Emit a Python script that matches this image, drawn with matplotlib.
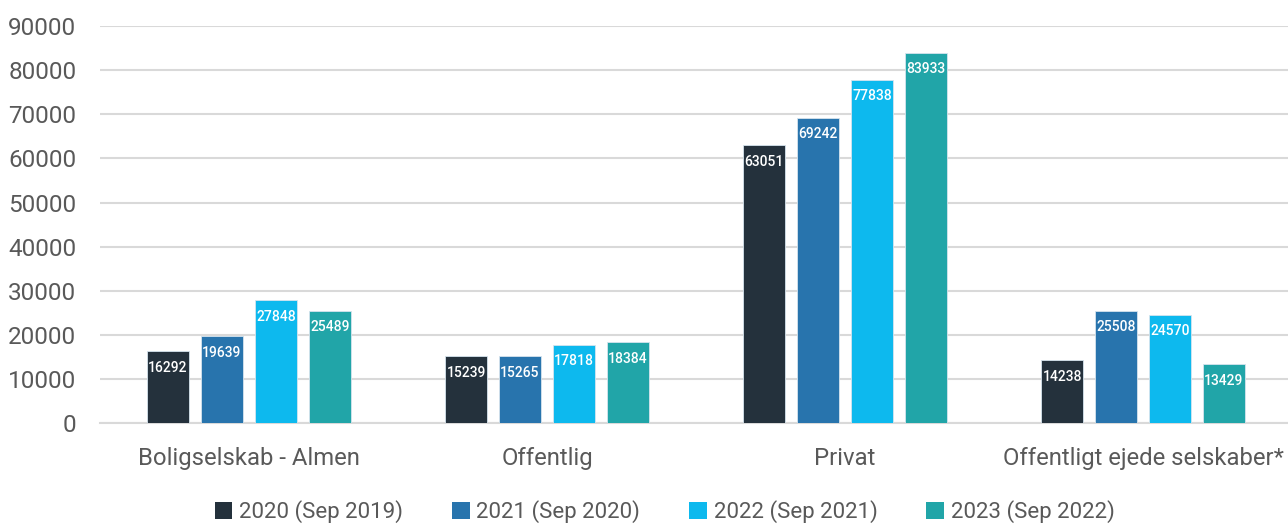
import numpy as np
import matplotlib
matplotlib.use("Agg")
import matplotlib.pyplot as plt
from matplotlib.patches import Patch

plt.rcParams["font.family"] = ["Roboto", "DejaVu Sans"]

categories = ["Boligselskab - Almen", "Offentlig", "Privat", "Offentligt ejede selskaber*"]
series = ["2020 (Sep 2019)", "2021 (Sep 2020)", "2022 (Sep 2021)", "2023 (Sep 2022)"]
v2020 = [16292, 15239, 63051, 14238]
v2021 = [19639, 15265, 69242, 25508]
v2022 = [27848, 17818, 77838, 24570]
v2023 = [25489, 18384, 83933, 13429]
colors = ["#24313C", "#2874AD", "#0DB9EE", "#21A5A8"]

fig = plt.figure(figsize=(12.88, 5.25), dpi=100)
ax = fig.add_axes([0.0776, 0.194, 0.9255, 0.7565])

x = np.arange(len(categories))
width = 0.141
step = 0.181
for i, (vals, col) in enumerate(zip([v2020, v2021, v2022, v2023], colors)):
    pos = x + (i - 1.5) * step
    ax.bar(pos, vals, width=width, color=col, edgecolor="#D6E4EE", linewidth=0.6, zorder=3)
    for px, v in zip(pos, vals):
        ax.annotate(str(v), (px, v), xytext=(0, -7), textcoords="offset points",
                    ha="center", va="top", color="white", fontsize=10,
                    fontweight="medium", zorder=4)

ax.set_xlim(-0.5, 3.5)
ax.set_ylim(0, 90000)
ax.set_yticks(np.arange(0, 90001, 10000))
ax.yaxis.grid(True, color="#D9D9D9", linewidth=1.5, zorder=0)
ax.set_axisbelow(True)
for s in ["top", "right", "left"]:
    ax.spines[s].set_visible(False)
ax.spines["bottom"].set_color("#D9D9D9")
ax.spines["bottom"].set_linewidth(1.5)
ax.set_xticks(x)
ax.set_xticklabels(categories)
ax.tick_params(axis="x", length=0, pad=17, labelsize=17.2, labelcolor="#595959")
ax.tick_params(axis="y", length=0, pad=17, labelsize=17.5, labelcolor="#595959")

handles = [Patch(facecolor=c, label=s) for c, s in zip(colors, series)]
fig.legend(handles=handles, loc="lower center", ncol=4, frameon=False,
           bbox_to_anchor=(0.516, -0.035), fontsize=16, labelcolor="#595959",
           handlelength=0.8, handleheight=0.8, handletextpad=0.3, columnspacing=2.2)

plt.savefig("out.png", dpi=100)
